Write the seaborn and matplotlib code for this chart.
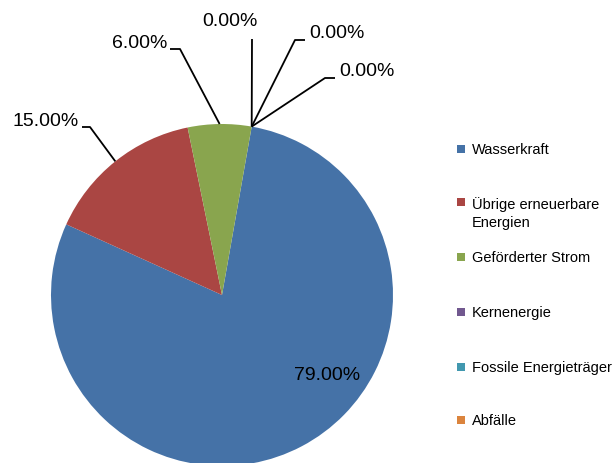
import matplotlib
matplotlib.use("Agg")
import matplotlib.pyplot as plt
import seaborn as sns
import numpy as np
from matplotlib.patches import Rectangle

# ---- data ----
categories = ["Wasserkraft", "Übrige erneuerbare\nEnergien", "Geförderter Strom",
              "Kernenergie", "Fossile Energieträger", "Abfälle"]
values = [79.0, 15.0, 6.0, 0.0, 0.0, 0.0]
pct_labels = ["79.00%", "15.00%", "6.00%", "0.00%", "0.00%", "0.00%"]
colors = ["#4572A7", "#AA4643", "#89A54E", "#71588F", "#4198AF", "#DB843D"]

sns.set_theme(style="white")
plt.rcParams["font.family"] = ["Liberation Sans", "DejaVu Sans"]

W, H = 614, 464
fig = plt.figure(figsize=(W / 100, H / 100), dpi=100)
ax = fig.add_axes([0, 0, 1, 1])

# pie geometry (pixels)
CX, CY, R = 222, 296, 171


def px(x, y):
    return ((x - CX) / R, (CY - y) / R)


wedges, _ = ax.pie(values, colors=colors, startangle=80, counterclock=False,
                   radius=1, center=(0, 0),
                   wedgeprops=dict(linewidth=0, edgecolor="none"))
ax.set_xlim(-CX / R, (W - CX) / R)
ax.set_ylim(-(H - CY) / R, CY / R)
ax.set_aspect("auto")
ax.axis("off")

FS = 14

# inside label for the big slice
ax.text(*px(327, 375), pct_labels[0], ha="center", va="center", fontsize=FS, color="black")

# outside labels: (elbow px, end px, text px, ha)
layout = {
    1: ((90, 128), (82, 128), (79, 122), "right"),
    2: ((180, 50), (170, 50), (167, 44), "right"),
    3: ((252, 40), (252, 40), (230, 22), "center"),
    4: ((295, 41), (305, 41), (309, 34), "left"),
    5: ((325, 79), (335, 79), (339, 72), "left"),
}
for i, (elbow, end, tpos, ha) in layout.items():
    w = wedges[i]
    mid = np.deg2rad((w.theta1 + w.theta2) / 2)
    ax_pt = (np.cos(mid), np.sin(mid))
    e = px(*elbow)
    en = px(*end)
    ax.plot([ax_pt[0], e[0], en[0]], [ax_pt[1], e[1], en[1]], color="black", lw=1.3,
            solid_capstyle="butt", clip_on=False)
    ax.text(*px(*tpos), pct_labels[i], ha=ha, va="center", fontsize=FS, color="black")

# legend (manual, Excel-like)
leg_y = [150, 203, 258, 313, 368, 421]
for i, (cat, col) in enumerate(zip(categories, colors)):
    y = leg_y[i]
    fig.patches.append(Rectangle((457 / W, 1 - (y + 4) / H), 8 / W, 8 / H,
                                 transform=fig.transFigure, facecolor=col, edgecolor="none"))
    nlines = cat.count("\n") + 1
    yc = y + (nlines - 1) * 21 / 2
    fig.text(472 / W, 1 - yc / H, cat, ha="left", va="center", fontsize=10.5,
             linespacing=1.45, color="black")

fig.savefig("out.png", dpi=100)
